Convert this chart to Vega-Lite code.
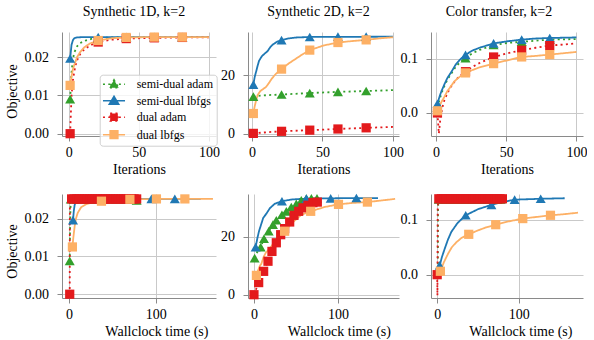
{
"$schema": "https://vega.github.io/schema/vega-lite/v6.json",
"padding": {"left": 5, "top": 5, "right": 0, "bottom": 0},
"bounds": "flush",
"columns": 3,
"spacing": {"row": 58, "column": 32},
"config": {
 "font": "Liberation Serif",
 "view": {"stroke": null},
 "axis": {"labelFont": "Liberation Serif", "labelFontSize": 14, "labelColor": "#000000", "titleFont": "Liberation Serif", "titleFontSize": 14, "titleFontWeight": "normal", "titleColor": "#000000", "domainColor": "#8a8a8a", "domainWidth": 1, "tickColor": "#8a8a8a", "tickSize": 5, "tickWidth": 1, "gridColor": "#c9c9c9", "gridWidth": 1, "labelFlush": false, "labelOverlap": false},
 "axisX": {"labelPadding": 4.6, "titlePadding": 3, "labelFontSize": 14, "labelFont": "Liberation Serif"},
 "axisY": {"labelPadding": 8.5, "titlePadding": 5, "labelFontSize": 14, "labelFont": "Liberation Serif"},
 "title": {"font": "Liberation Serif", "fontSize": 14, "fontWeight": "normal", "color": "#000000", "baseline": "alphabetic", "offset": 13},
 "legend": {"labelFont": "Liberation Serif", "labelFontSize": 12, "labelColor": "#000000", "symbolSize": 81, "symbolStrokeWidth": 1.6, "symbolOpacity": 1, "padding": 3.5, "rowPadding": 1.5, "symbolOffset": 4.8, "labelOffset": 16.7, "strokeColor": "#d0d0d0", "fillColor": "rgba(255,255,255,0.8)", "cornerRadius": 3}
},
"datasets": {
"curves": [
{"p":1,"s":"semi-dual adam","x":1,"y":0.009},{"p":1,"s":"semi-dual adam","x":2,"y":0.016},{"p":1,"s":"semi-dual adam","x":3,"y":0.0195},{"p":1,"s":"semi-dual adam","x":4,"y":0.0212},{"p":1,"s":"semi-dual adam","x":6,"y":0.0228},{"p":1,"s":"semi-dual adam","x":8,"y":0.0236},{"p":1,"s":"semi-dual adam","x":12,"y":0.0243},{"p":1,"s":"semi-dual adam","x":16,"y":0.0247},{"p":1,"s":"semi-dual adam","x":21,"y":0.0249},{"p":1,"s":"semi-dual adam","x":30,"y":0.0251},{"p":1,"s":"semi-dual adam","x":41,"y":0.0252},{"p":1,"s":"semi-dual adam","x":100,"y":0.0252},
{"p":1,"s":"semi-dual lbfgs","x":1,"y":0.0196},{"p":1,"s":"semi-dual lbfgs","x":2,"y":0.0232},{"p":1,"s":"semi-dual lbfgs","x":3,"y":0.0244},{"p":1,"s":"semi-dual lbfgs","x":4,"y":0.0249},{"p":1,"s":"semi-dual lbfgs","x":6,"y":0.0251},{"p":1,"s":"semi-dual lbfgs","x":10,"y":0.0252},{"p":1,"s":"semi-dual lbfgs","x":100,"y":0.0252},
{"p":1,"s":"dual adam","x":1,"y":0},{"p":1,"s":"dual adam","x":2,"y":0.01},{"p":1,"s":"dual adam","x":3,"y":0.014},{"p":1,"s":"dual adam","x":4,"y":0.0163},{"p":1,"s":"dual adam","x":5,"y":0.018},{"p":1,"s":"dual adam","x":6,"y":0.0192},{"p":1,"s":"dual adam","x":8,"y":0.0207},{"p":1,"s":"dual adam","x":10,"y":0.0216},{"p":1,"s":"dual adam","x":14,"y":0.0227},{"p":1,"s":"dual adam","x":18,"y":0.0235},{"p":1,"s":"dual adam","x":21,"y":0.0239},{"p":1,"s":"dual adam","x":30,"y":0.0245},{"p":1,"s":"dual adam","x":41,"y":0.0248},{"p":1,"s":"dual adam","x":61,"y":0.025},{"p":1,"s":"dual adam","x":81,"y":0.0251},{"p":1,"s":"dual adam","x":100,"y":0.0251},
{"p":1,"s":"dual lbfgs","x":1,"y":0.0126},{"p":1,"s":"dual lbfgs","x":2,"y":0.015},{"p":1,"s":"dual lbfgs","x":3,"y":0.0168},{"p":1,"s":"dual lbfgs","x":4,"y":0.018},{"p":1,"s":"dual lbfgs","x":6,"y":0.02},{"p":1,"s":"dual lbfgs","x":8,"y":0.0212},{"p":1,"s":"dual lbfgs","x":11,"y":0.0225},{"p":1,"s":"dual lbfgs","x":15,"y":0.0235},{"p":1,"s":"dual lbfgs","x":21,"y":0.0243},{"p":1,"s":"dual lbfgs","x":31,"y":0.0249},{"p":1,"s":"dual lbfgs","x":41,"y":0.0251},{"p":1,"s":"dual lbfgs","x":61,"y":0.0252},{"p":1,"s":"dual lbfgs","x":100,"y":0.0252},
{"p":2,"s":"semi-dual adam","x":1,"y":12.7},{"p":2,"s":"semi-dual adam","x":3,"y":12.9},{"p":2,"s":"semi-dual adam","x":6,"y":13.0},{"p":2,"s":"semi-dual adam","x":11,"y":13.2},{"p":2,"s":"semi-dual adam","x":21,"y":13.4},{"p":2,"s":"semi-dual adam","x":41,"y":13.9},{"p":2,"s":"semi-dual adam","x":61,"y":14.3},{"p":2,"s":"semi-dual adam","x":81,"y":14.6},{"p":2,"s":"semi-dual adam","x":100,"y":14.9},
{"p":2,"s":"semi-dual lbfgs","x":1,"y":16.8},{"p":2,"s":"semi-dual lbfgs","x":2,"y":19.5},{"p":2,"s":"semi-dual lbfgs","x":3,"y":21.3},{"p":2,"s":"semi-dual lbfgs","x":4,"y":23.2},{"p":2,"s":"semi-dual lbfgs","x":5,"y":24.9},{"p":2,"s":"semi-dual lbfgs","x":7,"y":26.5},{"p":2,"s":"semi-dual lbfgs","x":9,"y":27.4},{"p":2,"s":"semi-dual lbfgs","x":11,"y":28.2},{"p":2,"s":"semi-dual lbfgs","x":13,"y":29.6},{"p":2,"s":"semi-dual lbfgs","x":15,"y":30.6},{"p":2,"s":"semi-dual lbfgs","x":18,"y":31.5},{"p":2,"s":"semi-dual lbfgs","x":21,"y":32.0},{"p":2,"s":"semi-dual lbfgs","x":26,"y":32.6},{"p":2,"s":"semi-dual lbfgs","x":31,"y":32.9},{"p":2,"s":"semi-dual lbfgs","x":41,"y":33.1},{"p":2,"s":"semi-dual lbfgs","x":100,"y":33.2},
{"p":2,"s":"dual adam","x":1,"y":0.1},{"p":2,"s":"dual adam","x":11,"y":0.5},{"p":2,"s":"dual adam","x":21,"y":0.8},{"p":2,"s":"dual adam","x":41,"y":1.2},{"p":2,"s":"dual adam","x":61,"y":1.6},{"p":2,"s":"dual adam","x":81,"y":2.0},{"p":2,"s":"dual adam","x":100,"y":2.3},
{"p":2,"s":"dual lbfgs","x":1,"y":6.9},{"p":2,"s":"dual lbfgs","x":2,"y":9.5},{"p":2,"s":"dual lbfgs","x":3,"y":11.5},{"p":2,"s":"dual lbfgs","x":4,"y":13.2},{"p":2,"s":"dual lbfgs","x":6,"y":14.6},{"p":2,"s":"dual lbfgs","x":8,"y":15.3},{"p":2,"s":"dual lbfgs","x":10,"y":16.0},{"p":2,"s":"dual lbfgs","x":12,"y":17.3},{"p":2,"s":"dual lbfgs","x":14,"y":18.8},{"p":2,"s":"dual lbfgs","x":17,"y":20.5},{"p":2,"s":"dual lbfgs","x":21,"y":22.1},{"p":2,"s":"dual lbfgs","x":26,"y":24.0},{"p":2,"s":"dual lbfgs","x":31,"y":25.6},{"p":2,"s":"dual lbfgs","x":36,"y":27.2},{"p":2,"s":"dual lbfgs","x":41,"y":28.6},{"p":2,"s":"dual lbfgs","x":51,"y":30.2},{"p":2,"s":"dual lbfgs","x":61,"y":31.2},{"p":2,"s":"dual lbfgs","x":71,"y":31.7},{"p":2,"s":"dual lbfgs","x":81,"y":32.1},{"p":2,"s":"dual lbfgs","x":90,"y":32.6},{"p":2,"s":"dual lbfgs","x":100,"y":33.0},
{"p":3,"s":"semi-dual adam","x":1,"y":0.01},{"p":3,"s":"semi-dual adam","x":2,"y":0.02},{"p":3,"s":"semi-dual adam","x":3,"y":0.029},{"p":3,"s":"semi-dual adam","x":4,"y":0.037},{"p":3,"s":"semi-dual adam","x":6,"y":0.05},{"p":3,"s":"semi-dual adam","x":8,"y":0.061},{"p":3,"s":"semi-dual adam","x":11,"y":0.073},{"p":3,"s":"semi-dual adam","x":14,"y":0.085},{"p":3,"s":"semi-dual adam","x":17,"y":0.093},{"p":3,"s":"semi-dual adam","x":21,"y":0.101},{"p":3,"s":"semi-dual adam","x":26,"y":0.11},{"p":3,"s":"semi-dual adam","x":31,"y":0.116},{"p":3,"s":"semi-dual adam","x":41,"y":0.125},{"p":3,"s":"semi-dual adam","x":51,"y":0.129},{"p":3,"s":"semi-dual adam","x":61,"y":0.131},{"p":3,"s":"semi-dual adam","x":71,"y":0.133},{"p":3,"s":"semi-dual adam","x":81,"y":0.135},{"p":3,"s":"semi-dual adam","x":100,"y":0.136},
{"p":3,"s":"semi-dual lbfgs","x":1,"y":0.017},{"p":3,"s":"semi-dual lbfgs","x":2,"y":0.026},{"p":3,"s":"semi-dual lbfgs","x":3,"y":0.034},{"p":3,"s":"semi-dual lbfgs","x":4,"y":0.041},{"p":3,"s":"semi-dual lbfgs","x":6,"y":0.053},{"p":3,"s":"semi-dual lbfgs","x":8,"y":0.064},{"p":3,"s":"semi-dual lbfgs","x":11,"y":0.076},{"p":3,"s":"semi-dual lbfgs","x":14,"y":0.089},{"p":3,"s":"semi-dual lbfgs","x":17,"y":0.098},{"p":3,"s":"semi-dual lbfgs","x":21,"y":0.107},{"p":3,"s":"semi-dual lbfgs","x":26,"y":0.115},{"p":3,"s":"semi-dual lbfgs","x":31,"y":0.12},{"p":3,"s":"semi-dual lbfgs","x":41,"y":0.128},{"p":3,"s":"semi-dual lbfgs","x":51,"y":0.132},{"p":3,"s":"semi-dual lbfgs","x":61,"y":0.135},{"p":3,"s":"semi-dual lbfgs","x":71,"y":0.137},{"p":3,"s":"semi-dual lbfgs","x":81,"y":0.138},{"p":3,"s":"semi-dual lbfgs","x":100,"y":0.139},
{"p":3,"s":"dual adam","x":1,"y":0},{"p":3,"s":"dual adam","x":2,"y":-0.038},{"p":3,"s":"dual adam","x":3,"y":-0.012},{"p":3,"s":"dual adam","x":4,"y":0.004},{"p":3,"s":"dual adam","x":5,"y":0.015},{"p":3,"s":"dual adam","x":6,"y":0.024},{"p":3,"s":"dual adam","x":8,"y":0.036},{"p":3,"s":"dual adam","x":10,"y":0.046},{"p":3,"s":"dual adam","x":13,"y":0.057},{"p":3,"s":"dual adam","x":16,"y":0.066},{"p":3,"s":"dual adam","x":21,"y":0.076},{"p":3,"s":"dual adam","x":26,"y":0.085},{"p":3,"s":"dual adam","x":31,"y":0.092},{"p":3,"s":"dual adam","x":41,"y":0.103},{"p":3,"s":"dual adam","x":51,"y":0.11},{"p":3,"s":"dual adam","x":61,"y":0.1155},{"p":3,"s":"dual adam","x":71,"y":0.12},{"p":3,"s":"dual adam","x":81,"y":0.124},{"p":3,"s":"dual adam","x":91,"y":0.126},{"p":3,"s":"dual adam","x":100,"y":0.128},
{"p":3,"s":"dual lbfgs","x":1,"y":0.004},{"p":3,"s":"dual lbfgs","x":2,"y":0.01},{"p":3,"s":"dual lbfgs","x":3,"y":0.016},{"p":3,"s":"dual lbfgs","x":4,"y":0.021},{"p":3,"s":"dual lbfgs","x":6,"y":0.03},{"p":3,"s":"dual lbfgs","x":8,"y":0.04},{"p":3,"s":"dual lbfgs","x":10,"y":0.047},{"p":3,"s":"dual lbfgs","x":13,"y":0.058},{"p":3,"s":"dual lbfgs","x":16,"y":0.065},{"p":3,"s":"dual lbfgs","x":21,"y":0.0737},{"p":3,"s":"dual lbfgs","x":26,"y":0.079},{"p":3,"s":"dual lbfgs","x":31,"y":0.084},{"p":3,"s":"dual lbfgs","x":41,"y":0.0908},{"p":3,"s":"dual lbfgs","x":51,"y":0.097},{"p":3,"s":"dual lbfgs","x":61,"y":0.1031},{"p":3,"s":"dual lbfgs","x":71,"y":0.105},{"p":3,"s":"dual lbfgs","x":81,"y":0.1074},{"p":3,"s":"dual lbfgs","x":91,"y":0.11},{"p":3,"s":"dual lbfgs","x":100,"y":0.1123},
{"p":4,"s":"semi-dual adam","x":0.8,"y":0.0088},{"p":4,"s":"semi-dual adam","x":1.2,"y":0.017},{"p":4,"s":"semi-dual adam","x":1.7,"y":0.023},{"p":4,"s":"semi-dual adam","x":2.5,"y":0.0248},{"p":4,"s":"semi-dual adam","x":4,"y":0.0251},{"p":4,"s":"semi-dual adam","x":80,"y":0.0251},
{"p":4,"s":"semi-dual lbfgs","x":4.6,"y":0.0196},{"p":4,"s":"semi-dual lbfgs","x":5.5,"y":0.022},{"p":4,"s":"semi-dual lbfgs","x":6.5,"y":0.0236},{"p":4,"s":"semi-dual lbfgs","x":8,"y":0.0246},{"p":4,"s":"semi-dual lbfgs","x":10,"y":0.0251},{"p":4,"s":"semi-dual lbfgs","x":15,"y":0.0252},{"p":4,"s":"semi-dual lbfgs","x":152,"y":0.0252},
{"p":4,"s":"dual adam","x":0.8,"y":0},{"p":4,"s":"dual adam","x":1,"y":0.0252},{"p":4,"s":"dual adam","x":78,"y":0.0252},
{"p":4,"s":"dual lbfgs","x":3.9,"y":0.0125},{"p":4,"s":"dual lbfgs","x":5,"y":0.015},{"p":4,"s":"dual lbfgs","x":6.5,"y":0.018},{"p":4,"s":"dual lbfgs","x":8,"y":0.02},{"p":4,"s":"dual lbfgs","x":10,"y":0.0215},{"p":4,"s":"dual lbfgs","x":14,"y":0.023},{"p":4,"s":"dual lbfgs","x":20,"y":0.0238},{"p":4,"s":"dual lbfgs","x":28,"y":0.0243},{"p":4,"s":"dual lbfgs","x":37.4,"y":0.0246},{"p":4,"s":"dual lbfgs","x":50,"y":0.0249},{"p":4,"s":"dual lbfgs","x":70.2,"y":0.0251},{"p":4,"s":"dual lbfgs","x":100.8,"y":0.0252},{"p":4,"s":"dual lbfgs","x":166,"y":0.0252},
{"p":5,"s":"semi-dual adam","x":0.8,"y":12.7},{"p":5,"s":"semi-dual adam","x":4,"y":14.8},{"p":5,"s":"semi-dual adam","x":8,"y":16.5},{"p":5,"s":"semi-dual adam","x":11.9,"y":19.4},{"p":5,"s":"semi-dual adam","x":17.5,"y":22.0},{"p":5,"s":"semi-dual adam","x":22.6,"y":24.3},{"p":5,"s":"semi-dual adam","x":26.6,"y":25.8},{"p":5,"s":"semi-dual adam","x":33.3,"y":27.7},{"p":5,"s":"semi-dual adam","x":38.5,"y":28.9},{"p":5,"s":"semi-dual adam","x":44.4,"y":30.4},{"p":5,"s":"semi-dual adam","x":50.4,"y":31.5},{"p":5,"s":"semi-dual adam","x":56.3,"y":32.7},{"p":5,"s":"semi-dual adam","x":62.3,"y":33.3},{"p":5,"s":"semi-dual adam","x":68.3,"y":33.4},{"p":5,"s":"semi-dual adam","x":75,"y":33.4},
{"p":5,"s":"semi-dual lbfgs","x":2,"y":16.5},{"p":5,"s":"semi-dual lbfgs","x":4,"y":19.5},{"p":5,"s":"semi-dual lbfgs","x":6,"y":22.0},{"p":5,"s":"semi-dual lbfgs","x":8.8,"y":24.6},{"p":5,"s":"semi-dual lbfgs","x":11,"y":26.6},{"p":5,"s":"semi-dual lbfgs","x":14.8,"y":28.1},{"p":5,"s":"semi-dual lbfgs","x":19,"y":30.0},{"p":5,"s":"semi-dual lbfgs","x":24.6,"y":31.5},{"p":5,"s":"semi-dual lbfgs","x":33.3,"y":32.4},{"p":5,"s":"semi-dual lbfgs","x":45,"y":33.0},{"p":5,"s":"semi-dual lbfgs","x":62.4,"y":33.3},{"p":5,"s":"semi-dual lbfgs","x":91.3,"y":33.4},{"p":5,"s":"semi-dual lbfgs","x":121.9,"y":33.5},{"p":5,"s":"semi-dual lbfgs","x":147.6,"y":33.5},
{"p":5,"s":"dual adam","x":0,"y":0},{"p":5,"s":"dual adam","x":5.6,"y":4.2},{"p":5,"s":"dual adam","x":11.5,"y":8.1},{"p":5,"s":"dual adam","x":16.7,"y":11.6},{"p":5,"s":"dual adam","x":21.4,"y":15.0},{"p":5,"s":"dual adam","x":26.6,"y":18.0},{"p":5,"s":"dual adam","x":31.8,"y":20.8},{"p":5,"s":"dual adam","x":36.5,"y":22.9},{"p":5,"s":"dual adam","x":42.5,"y":25.2},{"p":5,"s":"dual adam","x":47.6,"y":27.5},{"p":5,"s":"dual adam","x":53.2,"y":28.9},{"p":5,"s":"dual adam","x":58.3,"y":30.1},{"p":5,"s":"dual adam","x":64.3,"y":31.0},{"p":5,"s":"dual adam","x":70.2,"y":31.9},{"p":5,"s":"dual adam","x":75.4,"y":32.1},
{"p":5,"s":"dual lbfgs","x":2.9,"y":6.7},{"p":5,"s":"dual lbfgs","x":5,"y":8.5},{"p":5,"s":"dual lbfgs","x":7,"y":10.0},{"p":5,"s":"dual lbfgs","x":8.8,"y":10.7},{"p":5,"s":"dual lbfgs","x":11.5,"y":13.1},{"p":5,"s":"dual lbfgs","x":14,"y":14.5},{"p":5,"s":"dual lbfgs","x":16.7,"y":15.4},{"p":5,"s":"dual lbfgs","x":20,"y":16.5},{"p":5,"s":"dual lbfgs","x":24.6,"y":18.3},{"p":5,"s":"dual lbfgs","x":30,"y":20.5},{"p":5,"s":"dual lbfgs","x":36.5,"y":22.0},{"p":5,"s":"dual lbfgs","x":45,"y":24.8},{"p":5,"s":"dual lbfgs","x":56.4,"y":27.7},{"p":5,"s":"dual lbfgs","x":67.5,"y":28.9},{"p":5,"s":"dual lbfgs","x":84.2,"y":30.4},{"p":5,"s":"dual lbfgs","x":100.6,"y":31.3},{"p":5,"s":"dual lbfgs","x":117,"y":31.8},{"p":5,"s":"dual lbfgs","x":135,"y":32.1},{"p":5,"s":"dual lbfgs","x":150,"y":32.6},{"p":5,"s":"dual lbfgs","x":168,"y":33.2},
{"p":6,"s":"semi-dual adam","x":0.8,"y":0.01},{"p":6,"s":"semi-dual adam","x":1.0,"y":0.12},{"p":6,"s":"semi-dual adam","x":1.5,"y":0.135},{"p":6,"s":"semi-dual adam","x":80,"y":0.137},
{"p":6,"s":"semi-dual lbfgs","x":3.1,"y":0.017},{"p":6,"s":"semi-dual lbfgs","x":6,"y":0.033},{"p":6,"s":"semi-dual lbfgs","x":9.2,"y":0.047},{"p":6,"s":"semi-dual lbfgs","x":13,"y":0.063},{"p":6,"s":"semi-dual lbfgs","x":17.4,"y":0.078},{"p":6,"s":"semi-dual lbfgs","x":25,"y":0.094},{"p":6,"s":"semi-dual lbfgs","x":35,"y":0.108},{"p":6,"s":"semi-dual lbfgs","x":50,"y":0.119},{"p":6,"s":"semi-dual lbfgs","x":66.5,"y":0.127},{"p":6,"s":"semi-dual lbfgs","x":80,"y":0.132},{"p":6,"s":"semi-dual lbfgs","x":95,"y":0.1364},{"p":6,"s":"semi-dual lbfgs","x":127,"y":0.138},{"p":6,"s":"semi-dual lbfgs","x":156.4,"y":0.139},
{"p":6,"s":"dual adam","x":0,"y":0},{"p":6,"s":"dual adam","x":0.3,"y":-0.038},{"p":6,"s":"dual adam","x":0.6,"y":0.12},{"p":6,"s":"dual adam","x":1.2,"y":0.136},{"p":6,"s":"dual adam","x":80,"y":0.138},
{"p":6,"s":"dual lbfgs","x":3.9,"y":0.0062},{"p":6,"s":"dual lbfgs","x":8,"y":0.022},{"p":6,"s":"dual lbfgs","x":13.3,"y":0.038},{"p":6,"s":"dual lbfgs","x":18,"y":0.05},{"p":6,"s":"dual lbfgs","x":23.5,"y":0.059},{"p":6,"s":"dual lbfgs","x":30,"y":0.067},{"p":6,"s":"dual lbfgs","x":38.7,"y":0.0734},{"p":6,"s":"dual lbfgs","x":50,"y":0.0805},{"p":6,"s":"dual lbfgs","x":60,"y":0.086},{"p":6,"s":"dual lbfgs","x":71.8,"y":0.0909},{"p":6,"s":"dual lbfgs","x":88,"y":0.097},{"p":6,"s":"dual lbfgs","x":105,"y":0.102},{"p":6,"s":"dual lbfgs","x":122,"y":0.105},{"p":6,"s":"dual lbfgs","x":139,"y":0.108},{"p":6,"s":"dual lbfgs","x":156,"y":0.11},{"p":6,"s":"dual lbfgs","x":172.8,"y":0.1127}
],
"marks": [
{"p":1,"s":"semi-dual adam","x":1,"y":0.009},{"p":1,"s":"semi-dual adam","x":21,"y":0.0249},{"p":1,"s":"semi-dual adam","x":41,"y":0.0252},{"p":1,"s":"semi-dual adam","x":61,"y":0.0252},{"p":1,"s":"semi-dual adam","x":81,"y":0.0252},
{"p":1,"s":"semi-dual lbfgs","x":1,"y":0.0196},{"p":1,"s":"semi-dual lbfgs","x":21,"y":0.0252},{"p":1,"s":"semi-dual lbfgs","x":41,"y":0.0252},{"p":1,"s":"semi-dual lbfgs","x":61,"y":0.0252},{"p":1,"s":"semi-dual lbfgs","x":81,"y":0.0252},
{"p":1,"s":"dual adam","x":1,"y":0},{"p":1,"s":"dual adam","x":21,"y":0.0239},{"p":1,"s":"dual adam","x":41,"y":0.0248},{"p":1,"s":"dual adam","x":61,"y":0.025},{"p":1,"s":"dual adam","x":81,"y":0.0251},
{"p":1,"s":"dual lbfgs","x":1,"y":0.0126},{"p":1,"s":"dual lbfgs","x":21,"y":0.0243},{"p":1,"s":"dual lbfgs","x":41,"y":0.0251},{"p":1,"s":"dual lbfgs","x":61,"y":0.0252},{"p":1,"s":"dual lbfgs","x":81,"y":0.0252},
{"p":2,"s":"semi-dual adam","x":1,"y":12.7},{"p":2,"s":"semi-dual adam","x":21,"y":13.4},{"p":2,"s":"semi-dual adam","x":41,"y":13.9},{"p":2,"s":"semi-dual adam","x":61,"y":14.3},{"p":2,"s":"semi-dual adam","x":81,"y":14.6},
{"p":2,"s":"semi-dual lbfgs","x":1,"y":16.8},{"p":2,"s":"semi-dual lbfgs","x":21,"y":32.0},{"p":2,"s":"semi-dual lbfgs","x":41,"y":33.1},{"p":2,"s":"semi-dual lbfgs","x":61,"y":33.2},{"p":2,"s":"semi-dual lbfgs","x":81,"y":33.2},
{"p":2,"s":"dual adam","x":1,"y":0.1},{"p":2,"s":"dual adam","x":21,"y":0.8},{"p":2,"s":"dual adam","x":41,"y":1.2},{"p":2,"s":"dual adam","x":61,"y":1.6},{"p":2,"s":"dual adam","x":81,"y":2.0},
{"p":2,"s":"dual lbfgs","x":1,"y":6.9},{"p":2,"s":"dual lbfgs","x":21,"y":22.1},{"p":2,"s":"dual lbfgs","x":41,"y":28.6},{"p":2,"s":"dual lbfgs","x":61,"y":31.2},{"p":2,"s":"dual lbfgs","x":81,"y":32.1},
{"p":3,"s":"semi-dual adam","x":1,"y":0.01},{"p":3,"s":"semi-dual adam","x":21,"y":0.101},{"p":3,"s":"semi-dual adam","x":41,"y":0.125},{"p":3,"s":"semi-dual adam","x":61,"y":0.131},{"p":3,"s":"semi-dual adam","x":81,"y":0.135},
{"p":3,"s":"semi-dual lbfgs","x":1,"y":0.017},{"p":3,"s":"semi-dual lbfgs","x":21,"y":0.107},{"p":3,"s":"semi-dual lbfgs","x":41,"y":0.128},{"p":3,"s":"semi-dual lbfgs","x":61,"y":0.135},{"p":3,"s":"semi-dual lbfgs","x":81,"y":0.138},
{"p":3,"s":"dual adam","x":1,"y":0},{"p":3,"s":"dual adam","x":21,"y":0.076},{"p":3,"s":"dual adam","x":41,"y":0.103},{"p":3,"s":"dual adam","x":61,"y":0.1155},{"p":3,"s":"dual adam","x":81,"y":0.124},
{"p":3,"s":"dual lbfgs","x":1,"y":0.004},{"p":3,"s":"dual lbfgs","x":21,"y":0.0737},{"p":3,"s":"dual lbfgs","x":41,"y":0.0908},{"p":3,"s":"dual lbfgs","x":61,"y":0.1031},{"p":3,"s":"dual lbfgs","x":81,"y":0.1074},
{"p":4,"s":"semi-dual adam","x":0.8,"y":0.0088},{"p":4,"s":"semi-dual adam","x":2,"y":0.0251},{"p":4,"s":"semi-dual adam","x":6,"y":0.0251},{"p":4,"s":"semi-dual adam","x":10,"y":0.0251},{"p":4,"s":"semi-dual adam","x":14,"y":0.0251},{"p":4,"s":"semi-dual adam","x":18,"y":0.0251},{"p":4,"s":"semi-dual adam","x":22,"y":0.0251},{"p":4,"s":"semi-dual adam","x":26,"y":0.0251},{"p":4,"s":"semi-dual adam","x":30,"y":0.0251},{"p":4,"s":"semi-dual adam","x":34,"y":0.0251},{"p":4,"s":"semi-dual adam","x":38,"y":0.0251},{"p":4,"s":"semi-dual adam","x":42,"y":0.0251},{"p":4,"s":"semi-dual adam","x":46,"y":0.0251},{"p":4,"s":"semi-dual adam","x":50,"y":0.0251},{"p":4,"s":"semi-dual adam","x":54,"y":0.0251},{"p":4,"s":"semi-dual adam","x":58,"y":0.0251},{"p":4,"s":"semi-dual adam","x":62,"y":0.0251},{"p":4,"s":"semi-dual adam","x":66,"y":0.0251},{"p":4,"s":"semi-dual adam","x":70,"y":0.0251},{"p":4,"s":"semi-dual adam","x":74,"y":0.0251},{"p":4,"s":"semi-dual adam","x":78,"y":0.0248},
{"p":4,"s":"semi-dual lbfgs","x":4.6,"y":0.0196},{"p":4,"s":"semi-dual lbfgs","x":35,"y":0.0252},{"p":4,"s":"semi-dual lbfgs","x":65,"y":0.0252},{"p":4,"s":"semi-dual lbfgs","x":95,"y":0.0252},{"p":4,"s":"semi-dual lbfgs","x":122,"y":0.0252},
{"p":4,"s":"dual adam","x":0.8,"y":0},{"p":4,"s":"dual adam","x":3,"y":0.0252},{"p":4,"s":"dual adam","x":6,"y":0.0252},{"p":4,"s":"dual adam","x":9,"y":0.0252},{"p":4,"s":"dual adam","x":12,"y":0.0252},{"p":4,"s":"dual adam","x":15,"y":0.0252},{"p":4,"s":"dual adam","x":18,"y":0.0252},{"p":4,"s":"dual adam","x":21,"y":0.0252},{"p":4,"s":"dual adam","x":24,"y":0.0252},{"p":4,"s":"dual adam","x":27,"y":0.0252},{"p":4,"s":"dual adam","x":30,"y":0.0252},{"p":4,"s":"dual adam","x":33,"y":0.0252},{"p":4,"s":"dual adam","x":36,"y":0.0252},{"p":4,"s":"dual adam","x":39,"y":0.0252},{"p":4,"s":"dual adam","x":42,"y":0.0252},{"p":4,"s":"dual adam","x":45,"y":0.0252},{"p":4,"s":"dual adam","x":48,"y":0.0252},{"p":4,"s":"dual adam","x":51,"y":0.0252},{"p":4,"s":"dual adam","x":54,"y":0.0252},{"p":4,"s":"dual adam","x":57,"y":0.0252},{"p":4,"s":"dual adam","x":60,"y":0.0252},{"p":4,"s":"dual adam","x":63,"y":0.0252},{"p":4,"s":"dual adam","x":66,"y":0.0252},{"p":4,"s":"dual adam","x":69,"y":0.0252},{"p":4,"s":"dual adam","x":72,"y":0.0252},{"p":4,"s":"dual adam","x":75,"y":0.0252},{"p":4,"s":"dual adam","x":78,"y":0.0252},
{"p":4,"s":"dual lbfgs","x":3.9,"y":0.0125},{"p":4,"s":"dual lbfgs","x":37.4,"y":0.0246},{"p":4,"s":"dual lbfgs","x":70.2,"y":0.0251},{"p":4,"s":"dual lbfgs","x":100.8,"y":0.0252},{"p":4,"s":"dual lbfgs","x":133.6,"y":0.0252},
{"p":5,"s":"semi-dual adam","x":0.8,"y":12.7},{"p":5,"s":"semi-dual adam","x":8,"y":16.5},{"p":5,"s":"semi-dual adam","x":11.9,"y":19.4},{"p":5,"s":"semi-dual adam","x":17.5,"y":22.0},{"p":5,"s":"semi-dual adam","x":22.6,"y":24.3},{"p":5,"s":"semi-dual adam","x":26.6,"y":25.8},{"p":5,"s":"semi-dual adam","x":33.3,"y":27.7},{"p":5,"s":"semi-dual adam","x":38.5,"y":28.9},{"p":5,"s":"semi-dual adam","x":44.4,"y":30.4},{"p":5,"s":"semi-dual adam","x":50.4,"y":31.5},{"p":5,"s":"semi-dual adam","x":56.3,"y":32.7},{"p":5,"s":"semi-dual adam","x":62.3,"y":33.3},{"p":5,"s":"semi-dual adam","x":68.3,"y":33.4},{"p":5,"s":"semi-dual adam","x":75,"y":33.4},
{"p":5,"s":"semi-dual lbfgs","x":2,"y":16.5},{"p":5,"s":"semi-dual lbfgs","x":33.3,"y":32.4},{"p":5,"s":"semi-dual lbfgs","x":62.4,"y":33.3},{"p":5,"s":"semi-dual lbfgs","x":91.3,"y":33.4},{"p":5,"s":"semi-dual lbfgs","x":121.9,"y":33.5},
{"p":5,"s":"dual adam","x":0,"y":0},{"p":5,"s":"dual adam","x":5.6,"y":4.2},{"p":5,"s":"dual adam","x":11.5,"y":8.1},{"p":5,"s":"dual adam","x":16.7,"y":11.6},{"p":5,"s":"dual adam","x":21.4,"y":15.0},{"p":5,"s":"dual adam","x":26.6,"y":18.0},{"p":5,"s":"dual adam","x":31.8,"y":20.8},{"p":5,"s":"dual adam","x":36.5,"y":22.9},{"p":5,"s":"dual adam","x":42.5,"y":25.2},{"p":5,"s":"dual adam","x":47.6,"y":27.5},{"p":5,"s":"dual adam","x":53.2,"y":28.9},{"p":5,"s":"dual adam","x":58.3,"y":30.1},{"p":5,"s":"dual adam","x":64.3,"y":31.0},{"p":5,"s":"dual adam","x":70.2,"y":31.9},{"p":5,"s":"dual adam","x":75.4,"y":32.1},
{"p":5,"s":"dual lbfgs","x":2.9,"y":6.7},{"p":5,"s":"dual lbfgs","x":36.5,"y":22.0},{"p":5,"s":"dual lbfgs","x":67.5,"y":28.9},{"p":5,"s":"dual lbfgs","x":100.6,"y":31.3},{"p":5,"s":"dual lbfgs","x":135,"y":32.1},
{"p":6,"s":"semi-dual adam","x":2,"y":0.137},{"p":6,"s":"semi-dual adam","x":6,"y":0.137},{"p":6,"s":"semi-dual adam","x":10,"y":0.137},{"p":6,"s":"semi-dual adam","x":14,"y":0.137},{"p":6,"s":"semi-dual adam","x":18,"y":0.137},{"p":6,"s":"semi-dual adam","x":22,"y":0.137},{"p":6,"s":"semi-dual adam","x":26,"y":0.137},{"p":6,"s":"semi-dual adam","x":30,"y":0.137},{"p":6,"s":"semi-dual adam","x":34,"y":0.137},{"p":6,"s":"semi-dual adam","x":38,"y":0.137},{"p":6,"s":"semi-dual adam","x":42,"y":0.137},{"p":6,"s":"semi-dual adam","x":46,"y":0.137},{"p":6,"s":"semi-dual adam","x":50,"y":0.137},{"p":6,"s":"semi-dual adam","x":54,"y":0.137},{"p":6,"s":"semi-dual adam","x":58,"y":0.137},{"p":6,"s":"semi-dual adam","x":62,"y":0.137},{"p":6,"s":"semi-dual adam","x":66,"y":0.137},{"p":6,"s":"semi-dual adam","x":70,"y":0.137},{"p":6,"s":"semi-dual adam","x":74,"y":0.137},{"p":6,"s":"semi-dual adam","x":78,"y":0.137},
{"p":6,"s":"semi-dual lbfgs","x":3.1,"y":0.017},{"p":6,"s":"semi-dual lbfgs","x":35,"y":0.108},{"p":6,"s":"semi-dual lbfgs","x":66.5,"y":0.127},{"p":6,"s":"semi-dual lbfgs","x":95,"y":0.1364},{"p":6,"s":"semi-dual lbfgs","x":127,"y":0.138},
{"p":6,"s":"dual adam","x":0,"y":0},{"p":6,"s":"dual adam","x":2,"y":0.138},{"p":6,"s":"dual adam","x":5,"y":0.138},{"p":6,"s":"dual adam","x":8,"y":0.138},{"p":6,"s":"dual adam","x":11,"y":0.138},{"p":6,"s":"dual adam","x":14,"y":0.138},{"p":6,"s":"dual adam","x":17,"y":0.138},{"p":6,"s":"dual adam","x":20,"y":0.138},{"p":6,"s":"dual adam","x":23,"y":0.138},{"p":6,"s":"dual adam","x":26,"y":0.138},{"p":6,"s":"dual adam","x":29,"y":0.138},{"p":6,"s":"dual adam","x":32,"y":0.138},{"p":6,"s":"dual adam","x":35,"y":0.138},{"p":6,"s":"dual adam","x":38,"y":0.138},{"p":6,"s":"dual adam","x":41,"y":0.138},{"p":6,"s":"dual adam","x":44,"y":0.138},{"p":6,"s":"dual adam","x":47,"y":0.138},{"p":6,"s":"dual adam","x":50,"y":0.138},{"p":6,"s":"dual adam","x":53,"y":0.138},{"p":6,"s":"dual adam","x":56,"y":0.138},{"p":6,"s":"dual adam","x":59,"y":0.138},{"p":6,"s":"dual adam","x":62,"y":0.138},{"p":6,"s":"dual adam","x":65,"y":0.138},{"p":6,"s":"dual adam","x":68,"y":0.138},{"p":6,"s":"dual adam","x":71,"y":0.138},{"p":6,"s":"dual adam","x":74,"y":0.138},{"p":6,"s":"dual adam","x":77,"y":0.138},{"p":6,"s":"dual adam","x":80,"y":0.138},
{"p":6,"s":"dual lbfgs","x":3.9,"y":0.0062},{"p":6,"s":"dual lbfgs","x":38.7,"y":0.0734},{"p":6,"s":"dual lbfgs","x":71.8,"y":0.0909},{"p":6,"s":"dual lbfgs","x":105,"y":0.102},{"p":6,"s":"dual lbfgs","x":139,"y":0.108}
]
},
"concat": [
 {"width": 154, "height": 104, "title": {"text": "Synthetic 1D, k=2", "dx": -5},
  "resolve": {"scale": {"strokeDash": "independent", "fill": "independent", "stroke": "independent", "shape": "independent"}},
  "encoding": {
   "x": {"field": "x", "type": "quantitative", "scale": {"domain": [-4.8, 105], "nice": false, "zero": false}, "axis": {"values": [0, 50, 100], "title": "Iterations", "labelFontSize": 14}},
   "y": {"field": "y", "type": "quantitative", "scale": {"domain": [-0.0006, 0.02652], "nice": false, "zero": false}, "axis": {"values": [0, 0.01, 0.02], "format": ".2f", "title": "Objective", "titleY": 59, "labelFontSize": 14}},
   "color": {"field": "s", "type": "nominal", "scale": {"domain": ["semi-dual adam", "semi-dual lbfgs", "dual adam", "dual lbfgs"], "range": ["#33a02c", "#1f78b4", "#e31a1c", "#fdb065"]}, "legend": null}
  },
  "layer": [
   {"data": {"name": "curves"}, "transform": [{"filter": "datum.p == 1"}], "mark": {"type": "line", "strokeWidth": 1.8}, "encoding": {"strokeDash": {"field": "s", "type": "nominal", "scale": {"domain": ["semi-dual adam", "semi-dual lbfgs", "dual adam", "dual lbfgs"], "range": [[2, 3.3], [1, 0], [2, 3.3], [1, 0]]}, "legend": null}}},
   {"data": {"name": "marks"}, "transform": [{"filter": "datum.p == 1 && indexof(datum.s, 'semi') == 0"}], "mark": {"type": "point", "shape": "triangle-up", "filled": true, "opacity": 1, "size": 100}},
   {"data": {"name": "marks"}, "transform": [{"filter": "datum.p == 1 && indexof(datum.s, 'semi') < 0"}], "mark": {"type": "point", "shape": "square", "filled": true, "opacity": 1, "size": 85}},
   {"data": {"name": "marks"}, "transform": [{"filter": "datum.p == 1"}], "mark": {"type": "point", "filled": true, "opacity": 0},
    "encoding": {
     "fill": {"field": "s", "type": "nominal", "scale": {"domain": ["semi-dual adam", "semi-dual lbfgs", "dual adam", "dual lbfgs"], "range": ["#33a02c", "#1f78b4", "#e31a1c", "#fdb065"]}, "legend": {"title": null, "orient": "none", "legendX": 37.7, "legendY": 42.7, "labelFontSize": 12}},
     "stroke": {"field": "s", "type": "nominal", "scale": {"domain": ["semi-dual adam", "semi-dual lbfgs", "dual adam", "dual lbfgs"], "range": ["#33a02c", "#1f78b4", "#e31a1c", "#fdb065"]}, "legend": {"title": null, "orient": "none", "legendX": 37.7, "legendY": 42.7, "labelFontSize": 12}},
     "shape": {"field": "s", "type": "nominal", "scale": {"domain": ["semi-dual adam", "semi-dual lbfgs", "dual adam", "dual lbfgs"], "range": ["M-2.45,0H2.45M0,-0.95L1.05,0.8L-1.05,0.8Z", "M-2.45,0H2.45M0,-0.95L1.05,0.8L-1.05,0.8Z", "M-2.45,0H2.45M-0.85,-0.85H0.85V0.85H-0.85Z", "M-2.45,0H2.45M-0.85,-0.85H0.85V0.85H-0.85Z"]}, "legend": {"title": null, "orient": "none", "legendX": 37.7, "legendY": 42.7, "labelFontSize": 12}},
     "strokeDash": {"field": "s", "type": "nominal", "scale": {"domain": ["semi-dual adam", "semi-dual lbfgs", "dual adam", "dual lbfgs"], "range": [[2, 3.3], [1, 0], [2, 3.3], [1, 0]]}, "legend": {"title": null, "orient": "none", "legendX": 37.7, "legendY": 42.7, "labelFontSize": 12}}
    }}
  ]},
 {"width": 151, "height": 104, "title": {"text": "Synthetic 2D, k=2", "dx": -5},
  "encoding": {
   "x": {"field": "x", "type": "quantitative", "scale": {"domain": [-2.8, 104.3], "nice": false, "zero": false}, "axis": {"values": [0, 50, 100], "title": "Iterations", "labelFontSize": 14}},
   "y": {"field": "y", "type": "quantitative", "scale": {"domain": [-0.8, 34.8], "nice": false, "zero": false}, "axis": {"values": [0, 20], "title": null, "labelFontSize": 14}},
   "color": {"field": "s", "type": "nominal", "scale": {"domain": ["semi-dual adam", "semi-dual lbfgs", "dual adam", "dual lbfgs"], "range": ["#33a02c", "#1f78b4", "#e31a1c", "#fdb065"]}, "legend": null}
  },
  "layer": [
   {"data": {"name": "curves"}, "transform": [{"filter": "datum.p == 2"}], "mark": {"type": "line", "strokeWidth": 1.8}, "encoding": {"strokeDash": {"field": "s", "type": "nominal", "scale": {"domain": ["semi-dual adam", "semi-dual lbfgs", "dual adam", "dual lbfgs"], "range": [[2, 3.3], [1, 0], [2, 3.3], [1, 0]]}, "legend": null}}},
   {"data": {"name": "marks"}, "transform": [{"filter": "datum.p == 2 && indexof(datum.s, 'semi') == 0"}], "mark": {"type": "point", "shape": "triangle-up", "filled": true, "opacity": 1, "size": 100}},
   {"data": {"name": "marks"}, "transform": [{"filter": "datum.p == 2 && indexof(datum.s, 'semi') < 0"}], "mark": {"type": "point", "shape": "square", "filled": true, "opacity": 1, "size": 85}}
  ]},
 {"width": 152, "height": 104, "title": {"text": "Color transfer, k=2", "dx": -8},
  "encoding": {
   "x": {"field": "x", "type": "quantitative", "scale": {"domain": [-3.6, 104.7], "nice": false, "zero": false}, "axis": {"values": [0, 50, 100], "title": "Iterations", "labelFontSize": 14}},
   "y": {"field": "y", "type": "quantitative", "scale": {"domain": [-0.0424, 0.149], "nice": false, "zero": false}, "axis": {"values": [0, 0.1], "format": ".1f", "title": null, "labelFontSize": 14}},
   "color": {"field": "s", "type": "nominal", "scale": {"domain": ["semi-dual adam", "semi-dual lbfgs", "dual adam", "dual lbfgs"], "range": ["#33a02c", "#1f78b4", "#e31a1c", "#fdb065"]}, "legend": null}
  },
  "layer": [
   {"data": {"name": "curves"}, "transform": [{"filter": "datum.p == 3"}], "mark": {"type": "line", "strokeWidth": 1.8}, "encoding": {"strokeDash": {"field": "s", "type": "nominal", "scale": {"domain": ["semi-dual adam", "semi-dual lbfgs", "dual adam", "dual lbfgs"], "range": [[2, 3.3], [1, 0], [2, 3.3], [1, 0]]}, "legend": null}}},
   {"data": {"name": "marks"}, "transform": [{"filter": "datum.p == 3 && indexof(datum.s, 'semi') == 0"}], "mark": {"type": "point", "shape": "triangle-up", "filled": true, "opacity": 1, "size": 100}},
   {"data": {"name": "marks"}, "transform": [{"filter": "datum.p == 3 && indexof(datum.s, 'semi') < 0"}], "mark": {"type": "point", "shape": "square", "filled": true, "opacity": 1, "size": 85}}
  ]},
 {"width": 154, "height": 104,
  "encoding": {
   "x": {"field": "x", "type": "quantitative", "scale": {"domain": [-8.1, 169.5], "nice": false, "zero": false}, "axis": {"values": [0, 100], "title": "Wallclock time (s)", "titleX": 94.4, "labelFontSize": 14}},
   "y": {"field": "y", "type": "quantitative", "scale": {"domain": [-0.001, 0.0265], "nice": false, "zero": false}, "axis": {"values": [0, 0.01, 0.02], "format": ".2f", "title": "Objective", "titleY": 57, "labelFontSize": 14}},
   "color": {"field": "s", "type": "nominal", "scale": {"domain": ["semi-dual adam", "semi-dual lbfgs", "dual adam", "dual lbfgs"], "range": ["#33a02c", "#1f78b4", "#e31a1c", "#fdb065"]}, "legend": null}
  },
  "layer": [
   {"data": {"name": "curves"}, "transform": [{"filter": "datum.p == 4"}], "mark": {"type": "line", "strokeWidth": 1.8}, "encoding": {"strokeDash": {"field": "s", "type": "nominal", "scale": {"domain": ["semi-dual adam", "semi-dual lbfgs", "dual adam", "dual lbfgs"], "range": [[2, 3.3], [1, 0], [2, 3.3], [1, 0]]}, "legend": null}}},
   {"data": {"name": "marks"}, "transform": [{"filter": "datum.p == 4 && indexof(datum.s, 'semi') == 0"}], "mark": {"type": "point", "shape": "triangle-up", "filled": true, "opacity": 1, "size": 100}},
   {"data": {"name": "marks"}, "transform": [{"filter": "datum.p == 4 && indexof(datum.s, 'semi') < 0"}], "mark": {"type": "point", "shape": "square", "filled": true, "opacity": 1, "size": 85}}
  ]},
 {"width": 151, "height": 104,
  "encoding": {
   "x": {"field": "x", "type": "quantitative", "scale": {"domain": [-7.1, 172.6], "nice": false, "zero": false}, "axis": {"values": [0, 100], "title": "Wallclock time (s)", "titleX": 90.9, "labelFontSize": 14}},
   "y": {"field": "y", "type": "quantitative", "scale": {"domain": [-1.14, 34.9], "nice": false, "zero": false}, "axis": {"values": [0, 20], "title": null, "labelFontSize": 14}},
   "color": {"field": "s", "type": "nominal", "scale": {"domain": ["semi-dual adam", "semi-dual lbfgs", "dual adam", "dual lbfgs"], "range": ["#33a02c", "#1f78b4", "#e31a1c", "#fdb065"]}, "legend": null}
  },
  "layer": [
   {"data": {"name": "curves"}, "transform": [{"filter": "datum.p == 5"}], "mark": {"type": "line", "strokeWidth": 1.8}, "encoding": {"strokeDash": {"field": "s", "type": "nominal", "scale": {"domain": ["semi-dual adam", "semi-dual lbfgs", "dual adam", "dual lbfgs"], "range": [[2, 3.3], [1, 0], [2, 3.3], [1, 0]]}, "legend": null}}},
   {"data": {"name": "marks"}, "transform": [{"filter": "datum.p == 5 && indexof(datum.s, 'semi') == 0"}], "mark": {"type": "point", "shape": "triangle-up", "filled": true, "opacity": 1, "size": 100}},
   {"data": {"name": "marks"}, "transform": [{"filter": "datum.p == 5 && indexof(datum.s, 'semi') < 0"}], "mark": {"type": "point", "shape": "square", "filled": true, "opacity": 1, "size": 85}}
  ]},
 {"width": 152, "height": 104,
  "encoding": {
   "x": {"field": "x", "type": "quantitative", "scale": {"domain": [-7.6, 178.9], "nice": false, "zero": false}, "axis": {"values": [0, 100], "title": "Wallclock time (s)", "titleX": 89.4, "labelFontSize": 14}},
   "y": {"field": "y", "type": "quantitative", "scale": {"domain": [-0.0424, 0.1467], "nice": false, "zero": false}, "axis": {"values": [0, 0.1], "format": ".1f", "title": null, "labelFontSize": 14}},
   "color": {"field": "s", "type": "nominal", "scale": {"domain": ["semi-dual adam", "semi-dual lbfgs", "dual adam", "dual lbfgs"], "range": ["#33a02c", "#1f78b4", "#e31a1c", "#fdb065"]}, "legend": null}
  },
  "layer": [
   {"data": {"name": "curves"}, "transform": [{"filter": "datum.p == 6"}], "mark": {"type": "line", "strokeWidth": 1.8}, "encoding": {"strokeDash": {"field": "s", "type": "nominal", "scale": {"domain": ["semi-dual adam", "semi-dual lbfgs", "dual adam", "dual lbfgs"], "range": [[2, 3.3], [1, 0], [2, 3.3], [1, 0]]}, "legend": null}}},
   {"data": {"name": "marks"}, "transform": [{"filter": "datum.p == 6 && indexof(datum.s, 'semi') == 0"}], "mark": {"type": "point", "shape": "triangle-up", "filled": true, "opacity": 1, "size": 100}},
   {"data": {"name": "marks"}, "transform": [{"filter": "datum.p == 6 && indexof(datum.s, 'semi') < 0"}], "mark": {"type": "point", "shape": "square", "filled": true, "opacity": 1, "size": 85}}
  ]}
]
}
